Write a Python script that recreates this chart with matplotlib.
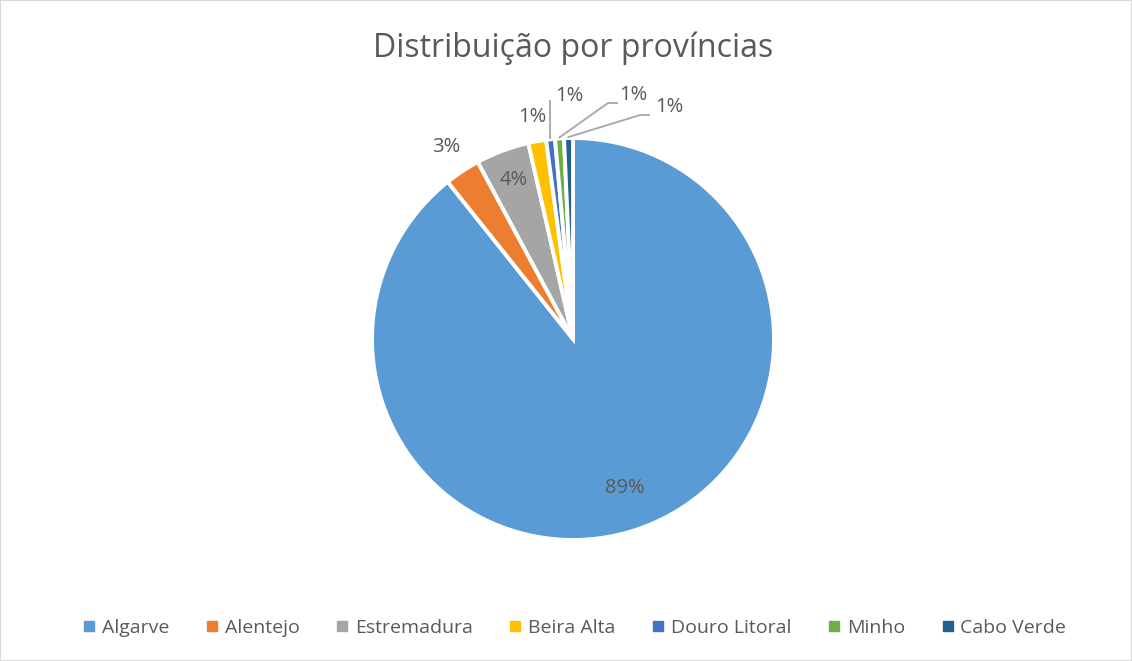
import matplotlib.pyplot as plt
import numpy as np
from matplotlib.patches import Rectangle
from matplotlib.lines import Line2D

plt.rcParams['font.family'] = ['Open Sans', 'DejaVu Sans']

# data (counts per province)
provinces = ['Algarve', 'Alentejo', 'Estremadura', 'Beira Alta', 'Douro Litoral', 'Minho', 'Cabo Verde']
counts = [125, 4, 6, 2, 1, 1, 1]
colors = ['#5B9BD5', '#ED7D31', '#A5A5A5', '#FFC000', '#4472C4', '#70AD47', '#255E91']

text_color = '#595959'

fig = plt.figure(figsize=(11.32, 6.61), dpi=100)
fig.patches.append(Rectangle((0, 0), 1, 1, transform=fig.transFigure, fill=False,
                             edgecolor='#d9d9d9', linewidth=1.5))

ax = fig.add_axes([0.2412, 0.0333, 0.5300, 0.9077])
wedges, _ = ax.pie(counts, colors=colors, startangle=90, counterclock=False, radius=1.005,
                   wedgeprops=dict(edgecolor='white', linewidth=2.8))
ax.set_xlim(-1.5, 1.5)
ax.set_ylim(-1.5, 1.5)
ax.set_aspect('equal')
ax.axis('off')

total = sum(counts)
pct = ['%d%%' % round(100 * c / total) for c in counts]

# label radius for the first four slices (best-fit style)
label_r = [0.79, 1.15, 0.85, 1.13]
for i in range(4):
    w = wedges[i]
    mid = np.deg2rad((w.theta1 + w.theta2) / 2)
    ax.text(label_r[i] * np.cos(mid), label_r[i] * np.sin(mid), pct[i],
            ha='center', va='center', fontsize=14.5, color=text_color)

# small slices with leader lines
text_pos = [(-0.02, 1.215), (0.30, 1.22), (0.48, 1.16)]
elbow = [None, (0.22, 1.18), (0.38, 1.12)]
for k, i in enumerate(range(4, 7)):
    w = wedges[i]
    mid = np.deg2rad((w.theta1 + w.theta2) / 2)
    x0, y0 = np.cos(mid) * 1.01, np.sin(mid) * 1.01
    tx, ty = text_pos[k]
    if elbow[k] is None:
        ax.plot([x0, x0], [y0, 1.19], color='#a6a6a6', lw=1.3)
    else:
        ex, ey = elbow[k]
        ax.plot([x0, ex - 0.045, ex], [y0, ey, ey], color='#a6a6a6', lw=1.3)
    ax.text(tx, ty, pct[i], ha='center', va='center', fontsize=14.5, color=text_color)

fig.suptitle('Distribuição por províncias', x=0.506, y=0.927, va='center', fontsize=23,
             color=text_color)

handles = [Line2D([0], [0], marker='s', linestyle='none', markersize=7,
                  markerfacecolor=c, markeredgecolor=c) for c in colors]
fig.legend(handles, provinces, loc='center', bbox_to_anchor=(0.506, 0.05), ncol=7,
           frameon=False, fontsize=14, labelcolor=text_color, handletextpad=0.15,
           columnspacing=1.7, handlelength=1.0)

plt.savefig('out.png', dpi=100)
